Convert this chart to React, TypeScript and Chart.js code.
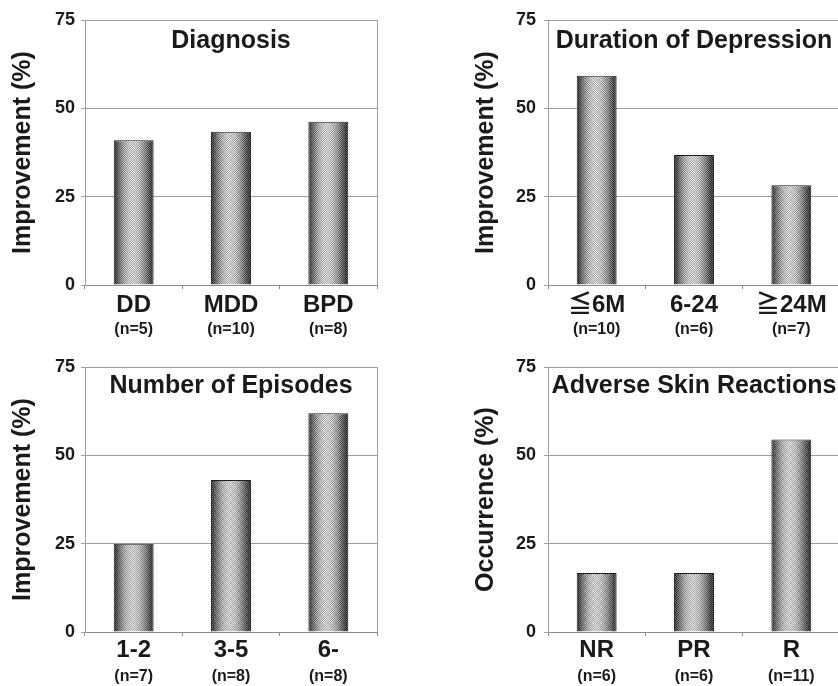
import React, { useEffect, useRef } from "react";
import { Chart, registerables } from "chart.js";

Chart.register(...registerables);

// ---------- data ----------
const diagLabels = ["DD", "MDD", "BPD"];
const diagN = ["(n=5)", "(n=10)", "(n=8)"];
const diagValues = [41.0, 43.4, 46.2];

const durLabels = ["≦6M", "6-24", "≧24M"];
const durN = ["(n=10)", "(n=6)", "(n=7)"];
const durValues = [59.2, 36.8, 28.2];

const epiLabels = ["1-2", "3-5", "6-"];
const epiN = ["(n=7)", "(n=8)", "(n=8)"];
const epiValues = [25.0, 43.0, 61.9];

const advLabels = ["NR", "PR", "R"];
const advN = ["(n=6)", "(n=6)", "(n=11)"];
const advValues = [16.7, 16.7, 54.5];

const yMin = 0;
const yMax = 75;
const yStep = 25;

const FONT = "'Liberation Sans', Arial, 'Noto Sans CJK JP', sans-serif";
const BAR_FRACTION = 0.41;

// ---------- bar texture ----------
function makeBarPattern(ctx: CanvasRenderingContext2D, width: number, left: number) {
  const w = Math.max(2, Math.round(width));
  const h = 8;
  const c = document.createElement("canvas");
  c.width = w;
  c.height = h;
  const g = c.getContext("2d")!;
  const img = g.createImageData(w, h);
  for (let y = 0; y < h; y++) {
    for (let x = 0; x < w; x++) {
      const t = (x + 0.5) / w;
      const s = Math.sin(Math.PI * Math.min(1, Math.pow(t, 0.92)));
      const base = 45 + 155 * Math.pow(s, 1.1);
      const strong = ((x >> 2) + (y >> 2)) % 2 === 0;
      const amp = strong ? 42 : 6;
      const sgn = (x + y) % 2 === 0 ? 1 : -1;
      let v = base + sgn * amp;
      v = Math.max(0, Math.min(255, v));
      const i = (y * w + x) * 4;
      img.data[i] = v;
      img.data[i + 1] = v;
      img.data[i + 2] = v;
      img.data[i + 3] = 255;
    }
  }
  g.putImageData(img, 0, 0);
  const p = ctx.createPattern(c, "repeat")!;
  try {
    p.setTransform(new DOMMatrix([1, 0, 0, 1, Math.round(left), 0]));
  } catch (e) {}
  return p;
}

// ---------- plugins ----------
const panelPlugin = {
  id: "panelExtras",
  afterDraw(chart: any, _args: any, opts: any) {
    const { ctx, chartArea } = chart;
    const xs = chart.scales.x;
    ctx.save();
    ctx.strokeStyle = "#a0a0a0";
    ctx.lineWidth = 1;
    ctx.beginPath();
    ctx.moveTo(Math.round(chartArea.right) + 0.5, chartArea.top);
    ctx.lineTo(Math.round(chartArea.right) + 0.5, chartArea.bottom);
    ctx.stroke();
    ctx.fillStyle = "#1a1a1a";
    ctx.font = `bold 25px ${FONT}`;
    ctx.textAlign = "center";
    ctx.textBaseline = "alphabetic";
    ctx.fillText(opts.title, (chartArea.left + chartArea.right) / 2, chartArea.top + opts.titleOffset);
    ctx.font = `bold 16px ${FONT}`;
    ctx.textBaseline = "middle";
    (opts.nLabels as string[]).forEach((s, i) => {
      ctx.fillText(s, xs.getPixelForValue(i), chartArea.bottom + 45);
    });
    ctx.restore();
  },
};

type PanelProps = {
  labels: string[];
  values: number[];
  nLabels: string[];
  title: string;
  yTitle: string;
  canvasW: number;
  canvasH: number;
  padLeft: number;
  areaLeft: number;
  areaRight: number;
  areaTop: number;
  areaBottom: number;
  tickPad: number;
  xTickPad: number;
  titleOffset: number;
};

function Panel(p: PanelProps) {
  const ref = useRef<HTMLCanvasElement | null>(null);
  useEffect(() => {
    if (!ref.current) return;
    const n = p.labels.length;
    const chart = new Chart(ref.current, {
      type: "bar",
      data: {
        labels: p.labels,
        datasets: [
          {
            data: p.values,
            backgroundColor: (c: any) => {
              const ch = c.chart;
              const xs = ch.scales && ch.scales.x;
              if (!xs || c.dataIndex === undefined || !ch.chartArea) return "#888";
              const catW = (ch.chartArea.right - ch.chartArea.left) / n;
              const bw = catW * BAR_FRACTION;
              const center = xs.getPixelForValue(c.dataIndex);
              return makeBarPattern(ch.ctx, bw, center - bw / 2);
            },
            borderColor: "#1e1e1e",
            borderWidth: 1,
            barPercentage: BAR_FRACTION,
            categoryPercentage: 1,
          },
        ],
      },
      options: {
        animation: false,
        responsive: false,
        devicePixelRatio: 1,
        layout: {
          padding: {
            left: p.padLeft,
            right: p.canvasW - p.areaRight,
            top: p.areaTop,
            bottom: 0,
          },
        },
        plugins: {
          legend: { display: false },
          tooltip: { enabled: false },
          title: { display: false },
          panelExtras: { title: p.title, nLabels: p.nLabels, titleOffset: p.titleOffset },
        } as any,
        scales: {
          x: {
            offset: true,
            afterFit: (s: any) => {
              s.height = p.canvasH - p.areaBottom;
            },
            grid: {
              offset: true,
              drawOnChartArea: false,
              drawTicks: true,
              tickLength: 4,
              color: "#8a8a8a",
            },
            border: { display: true, color: "#8a8a8a", width: 1 },
            ticks: {
              color: "#1a1a1a",
              font: { family: FONT, size: 24, weight: "bold" },
              padding: p.xTickPad,
              maxRotation: 0,
              autoSkip: false,
            },
          },
          y: {
            min: yMin,
            max: yMax,
            afterFit: (s: any) => {
              s.width = p.areaLeft - p.padLeft;
            },
            grid: {
              color: "#a0a0a0",
              lineWidth: 1,
              drawTicks: true,
              tickLength: 4,
            },
            border: { display: true, color: "#a0a0a0", width: 1 },
            ticks: {
              stepSize: yStep,
              color: "#1a1a1a",
              padding: p.tickPad,
              font: { family: FONT, size: 18, weight: "bold" },
            },
            title: {
              display: true,
              text: p.yTitle,
              color: "#1a1a1a",
              font: { family: FONT, size: 25, weight: "bold" },
              padding: { top: 8, bottom: 0 },
            },
          },
        },
      } as any,
      plugins: [panelPlugin],
    });
    return () => chart.destroy();
  }, []);
  return (
    <canvas
      ref={ref}
      width={p.canvasW}
      height={p.canvasH}
      style={{ width: p.canvasW, height: p.canvasH, display: "block" }}
    />
  );
}

export default function App() {
  const boxStyle = (left: number, top: number): React.CSSProperties => ({
    position: "absolute",
    left,
    top,
    width: 419,
    height: 343,
    overflow: "hidden",
  });
  return (
    <div style={{ position: "absolute", left: 0, top: 0, width: 838, height: 686, background: "#fff", overflow: "hidden" }}>
      <div style={boxStyle(0, 0)}>
        <Panel
          labels={diagLabels}
          values={diagValues}
          nLabels={diagN}
          title="Diagnosis"
          yTitle="Improvement (%)"
          canvasW={419}
          canvasH={343}
          padLeft={0}
          areaLeft={85}
          areaRight={377}
          areaTop={20}
          areaBottom={285}
          tickPad={6}
          xTickPad={2}
          titleOffset={28}
        />
      </div>
      <div style={boxStyle(419, 0)}>
        <Panel
          labels={durLabels}
          values={durValues}
          nLabels={durN}
          title="Duration of Depression"
          yTitle="Improvement (%)"
          canvasW={440}
          canvasH={343}
          padLeft={44}
          areaLeft={129}
          areaRight={421}
          areaTop={20}
          areaBottom={285}
          tickPad={8}
          xTickPad={2}
          titleOffset={28}
        />
      </div>
      <div style={boxStyle(0, 343)}>
        <Panel
          labels={epiLabels}
          values={epiValues}
          nLabels={epiN}
          title="Number of Episodes"
          yTitle="Improvement (%)"
          canvasW={419}
          canvasH={343}
          padLeft={0}
          areaLeft={85}
          areaRight={377}
          areaTop={24}
          areaBottom={289}
          tickPad={6}
          xTickPad={0}
          titleOffset={26}
        />
      </div>
      <div style={boxStyle(419, 343)}>
        <Panel
          labels={advLabels}
          values={advValues}
          nLabels={advN}
          title="Adverse Skin Reactions"
          yTitle="Occurrence (%)"
          canvasW={440}
          canvasH={343}
          padLeft={44}
          areaLeft={129}
          areaRight={421}
          areaTop={24}
          areaBottom={289}
          tickPad={8}
          xTickPad={0}
          titleOffset={26}
        />
      </div>
    </div>
  );
}
